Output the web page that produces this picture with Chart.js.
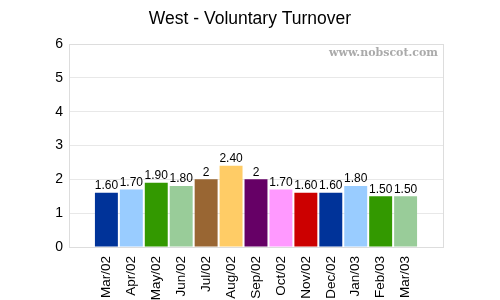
<!DOCTYPE html>
<html lang="en">
<head>
  <meta charset="UTF-8">
  <title>West - Voluntary Turnover</title>
  <script src="https://cdn.jsdelivr.net/npm/chart.js"></script>
  <style>
    html, body { margin: 0; padding: 0; background: #fff; }
    .chart-container { width: 500px; height: 300px; position: relative; }
  </style>
</head>
<body>
  <div class="chart-container">
    <canvas id="turnoverChart"></canvas>
  </div>

  <script>
    const months = ['Mar/02', 'Apr/02', 'May/02', 'Jun/02', 'Jul/02', 'Aug/02', 'Sep/02',
                    'Oct/02', 'Nov/02', 'Dec/02', 'Jan/03', 'Feb/03', 'Mar/03'];
    const turnover = [1.6, 1.7, 1.9, 1.8, 2, 2.4, 2, 1.7, 1.6, 1.6, 1.8, 1.5, 1.5];
    const barColors = ['#003399', '#99ccff', '#339900', '#99cc99', '#996633', '#ffcc66', '#660066',
                       '#ff99ff', '#cc0000', '#003399', '#99ccff', '#339900', '#99cc99'];
    const yTicks = [0, 1, 2, 3, 4, 5, 6];
    const chartTitle = 'West - Voluntary Turnover';

    // one empty slot each side, like the original plot
    const labels = [''].concat(months, ['']);
    const values = [null].concat(turnover, [null]);
    const colors = ['#fff'].concat(barColors, ['#fff']);

    const extras = {
      id: 'extras',
      afterDraw(chart) {
        const c = chart.ctx;
        const area = chart.chartArea;
        c.save();
        // title, centred on the whole canvas
        c.fillStyle = '#000';
        c.font = '17.5px "Liberation Sans", Arial, sans-serif';
        c.textAlign = 'center';
        c.textBaseline = 'middle';
        c.fillText(chartTitle, chart.width / 2, 19);
        // plot border
        c.strokeStyle = '#dddddd';
        c.lineWidth = 1;
        c.strokeRect(area.left + 0.5, area.top + 0.5, area.right - area.left, area.bottom - area.top);
        // watermark
        c.fillStyle = '#aaaaaa';
        c.font = 'bold 11px "DejaVu Serif", serif';
        c.textAlign = 'right';
        c.fillText('www.nobscot.com', area.right - 5, area.top + 9);
        // value labels
        c.fillStyle = '#000';
        c.font = '12px "Liberation Sans", Arial, sans-serif';
        c.textAlign = 'center';
        c.textBaseline = 'bottom';
        chart.getDatasetMeta(0).data.forEach((bar, i) => {
          const v = values[i];
          if (v === null) return;
          const txt = Number.isInteger(v) ? String(v) : v.toFixed(2);
          c.fillText(txt, bar.x, bar.y - 1);
        });
        c.restore();
      }
    };

    new Chart(document.getElementById('turnoverChart'), {
      type: 'bar',
      data: {
        labels: labels,
        datasets: [{
          data: values,
          backgroundColor: colors,
          borderWidth: 0,
          categoryPercentage: 1,
          barPercentage: 0.92
        }]
      },
      options: {
        responsive: true,
        maintainAspectRatio: false,
        animation: false,
        layout: { padding: { left: 0, right: 57, top: 44, bottom: 0 } },
        plugins: {
          legend: { display: false },
          tooltip: { enabled: false },
          title: { display: false }
        },
        scales: {
          x: {
            grid: { display: false },
            border: { display: false },
            ticks: {
              color: '#000',
              maxRotation: 90,
              minRotation: 90,
              autoSkip: false,
              padding: 1,
              font: { family: '"Liberation Sans", Arial, sans-serif', size: 13.5 }
            },
            afterFit(scale) { scale.height = 53; }
          },
          y: {
            min: 0,
            max: 6,
            afterBuildTicks(scale) { scale.ticks = yTicks.map(v => ({ value: v })); },
            grid: { color: '#e8e8e8', drawTicks: false },
            border: { display: false },
            ticks: {
              color: '#000',
              padding: 6,
              font: { family: '"Liberation Sans", Arial, sans-serif', size: 14 }
            },
            afterFit(scale) { scale.width = 69; }
          }
        }
      },
      plugins: [extras]
    });
  </script>
</body>
</html>
